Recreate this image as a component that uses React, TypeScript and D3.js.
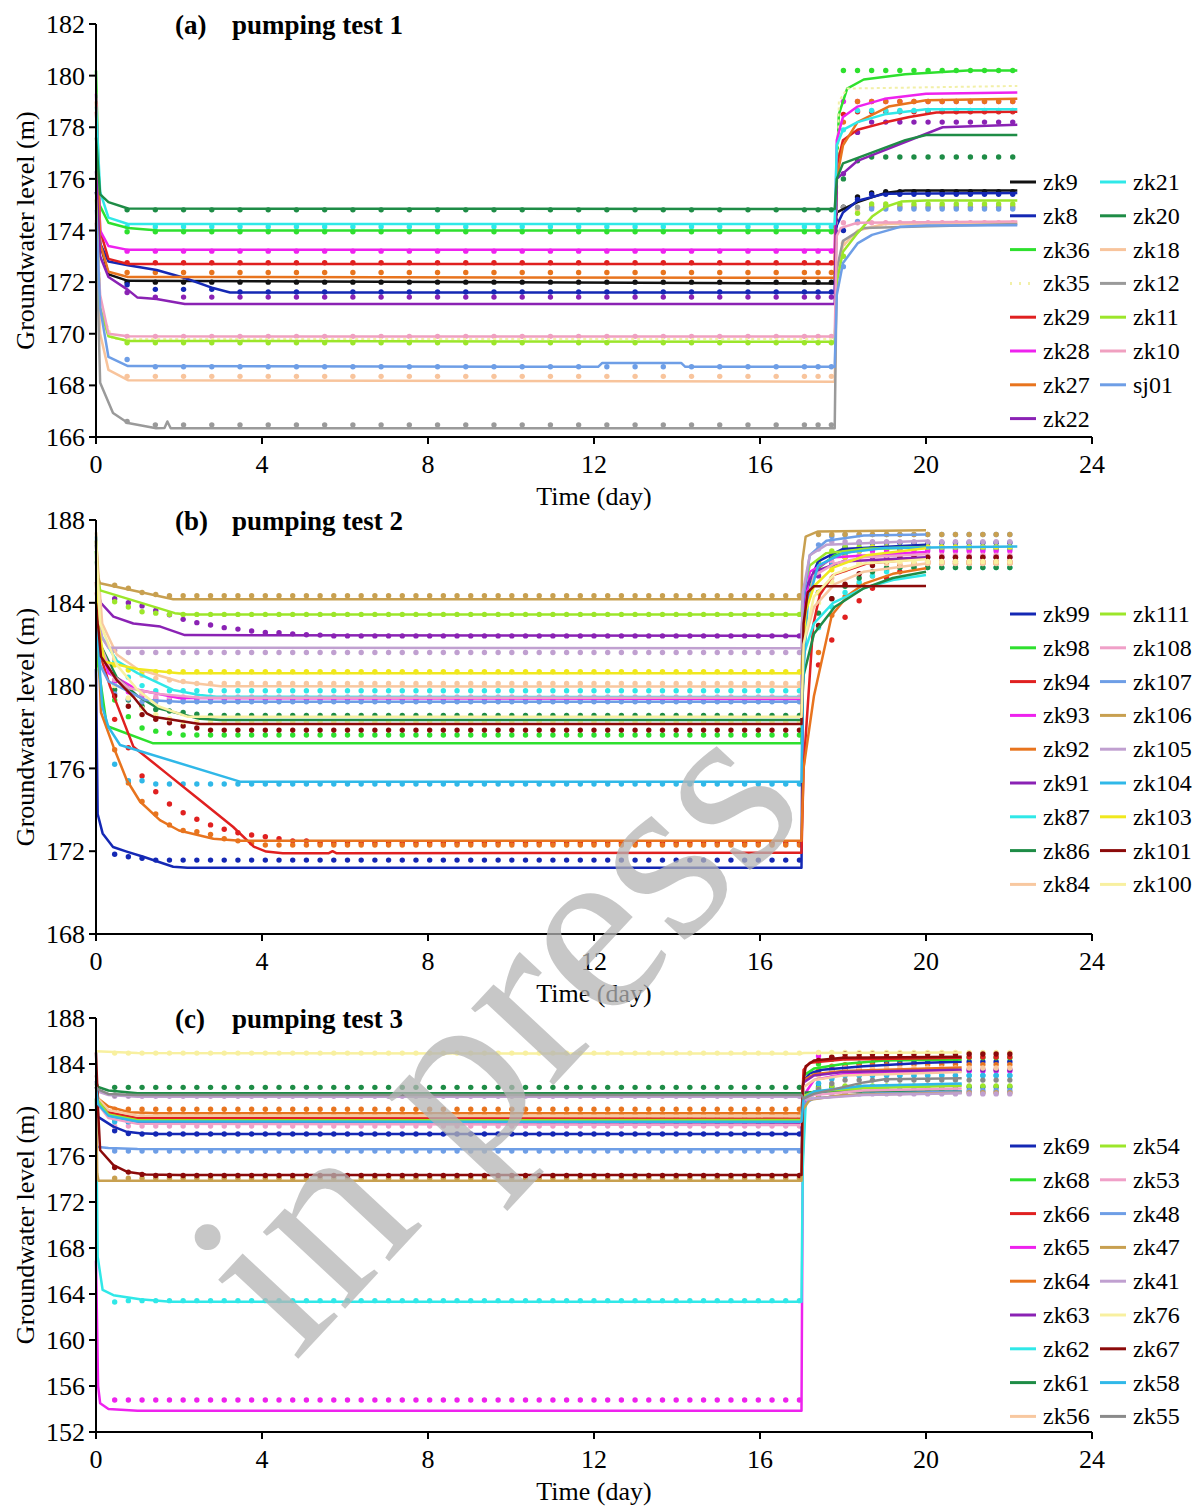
import React from 'react';
import * as d3 from 'd3';

// time axis (days)
const dayTicks = [0, 4, 8, 12, 16, 20, 24];

// observation times
const pumpTimesA = [0.75, 1.43, 2.11, 2.79, 3.47, 4.15, 4.83, 5.51, 6.19, 6.87, 7.55, 8.23, 8.91, 9.59, 10.27, 10.95, 11.63, 12.31, 12.99, 13.67, 14.35, 15.03, 15.71, 16.39, 17.07, 17.4, 17.72];
const recTimesA = [18.01, 18.35, 18.69, 19.03, 19.37, 19.71, 20.05, 20.39, 20.73, 21.07, 21.41, 21.75, 22.09];
const pumpTimesBC = [0.45, 0.78, 1.11, 1.44, 1.77, 2.1, 2.43, 2.76, 3.09, 3.42, 3.75, 4.08, 4.41, 4.74, 5.07, 5.4, 5.73, 6.06, 6.39, 6.72, 7.05, 7.38, 7.71, 8.04, 8.37, 8.7, 9.03, 9.36, 9.69, 10.02, 10.35, 10.68, 11.01, 11.34, 11.67, 12, 12.33, 12.66, 12.99, 13.32, 13.65, 13.98, 14.31, 14.64, 14.97, 15.3, 15.63, 15.96, 16.29, 16.62, 16.95];
const recTimesBC = [17.41, 17.73, 18.05, 18.39, 18.71, 19.05, 19.37, 19.71, 20.04, 20.38, 20.71, 21.04, 21.37, 21.69, 22.02];

// ---------- pumping test 1 ----------
const ticksA = [166, 168, 170, 172, 174, 176, 178, 180, 182];
const wellsA = ['zk9', 'zk8', 'zk36', 'zk35', 'zk29', 'zk28', 'zk27', 'zk22', 'zk21', 'zk20', 'zk18', 'zk12', 'zk11', 'zk10', 'sj01'];
const simA = [
  [[0, 175.5], [0.1, 173.5], [0.3, 172.3], [0.77, 172.05], [17.8, 171.95], [17.85, 174.7], [18.35, 175.1], [19.0, 175.45], [19.5, 175.55], [22.2, 175.55]],
  [[0, 175.5], [0.1, 173.5], [0.3, 172.8], [0.77, 172.65], [1.46, 172.47], [2.14, 172.16], [2.82, 171.77], [3.23, 171.6], [17.8, 171.6], [17.85, 174.2], [18.0, 174.7], [18.35, 175.15], [19.0, 175.42], [22.2, 175.45]],
  [[0, 180.2], [0.08, 175.0], [0.3, 174.3], [0.77, 174.1], [1.5, 174.0], [17.8, 174.0], [17.9, 178.5], [18.1, 179.5], [18.5, 179.85], [19.5, 180.05], [21, 180.2], [22.2, 180.2]],
  [[0, 179.6], [0.1, 171], [0.4, 169.8], [17.8, 169.8], [17.9, 179.0], [18.1, 179.5], [22.2, 179.6]],
  [[0, 178.6], [0.1, 174], [0.3, 172.9], [0.77, 172.7], [17.8, 172.7], [17.85, 176.5], [18.0, 177.5], [18.35, 177.9], [19.05, 178.2], [19.6, 178.4], [20.25, 178.57], [22.2, 178.6]],
  [[0, 179.3], [0.1, 174], [0.3, 173.4], [0.77, 173.25], [17.8, 173.25], [17.85, 177.5], [18.0, 178.4], [18.35, 178.8], [19.0, 179.1], [20, 179.3], [22.2, 179.35]],
  [[0, 179.0], [0.1, 173.5], [0.3, 172.4], [0.77, 172.2], [17.8, 172.17], [17.85, 176], [18.0, 177.3], [18.35, 178.2], [19.1, 178.8], [20, 179.05], [22.2, 179.1]],
  [[0, 176.3], [0.1, 173], [0.3, 172.2], [0.77, 171.7], [1.0, 171.4], [1.46, 171.35], [2.14, 171.15], [17.8, 171.15], [17.85, 176.0], [18.35, 176.7], [20.4, 178.0], [22.2, 178.1]],
  [[0, 178.8], [0.1, 175.5], [0.3, 174.5], [0.77, 174.25], [17.8, 174.25], [17.85, 177.3], [18.0, 177.9], [18.35, 178.2], [19.0, 178.5], [20, 178.7], [22.2, 178.7]],
  [[0, 177.6], [0.1, 175.4], [0.3, 175.1], [0.77, 174.85], [17.8, 174.83], [17.85, 176.0], [18.0, 176.6], [18.5, 176.9], [19.5, 177.5], [20, 177.7], [22.2, 177.7]],
  [[0, 174.3], [0.1, 170], [0.3, 168.6], [0.77, 168.2], [17.8, 168.14], [17.85, 172.5], [18.0, 173.4], [18.35, 174.0], [19.0, 174.25], [22.2, 174.3]],
  [[0, 174.3], [0.1, 168.1], [0.41, 166.93], [0.77, 166.54], [1.45, 166.34], [1.65, 166.35], [1.72, 166.6], [1.8, 166.34], [17.8, 166.34], [17.85, 172.5], [18.0, 173.6], [18.5, 174.1], [22.2, 174.25]],
  [[0, 175.2], [0.1, 171], [0.3, 169.9], [0.77, 169.72], [17.8, 169.69], [17.85, 172.0], [18.0, 173.18], [18.35, 173.9], [18.7, 174.54], [19.05, 174.93], [19.4, 175.12], [20, 175.16], [22.2, 175.16]],
  [[0, 174.4], [0.1, 171.5], [0.3, 170.0], [0.77, 169.9], [17.8, 169.89], [17.85, 173.8], [17.95, 174.1], [18.35, 174.3], [22.2, 174.35]],
  [[0, 174.8], [0.1, 171], [0.3, 169.1], [0.77, 168.75], [12.1, 168.72], [12.2, 168.87], [14.1, 168.87], [14.2, 168.72], [17.8, 168.72], [17.85, 171.5], [18.0, 172.74], [18.35, 173.5], [18.7, 173.83], [19.4, 174.15], [20, 174.19], [22.2, 174.2]],
];
// observed levels as [value, count] runs over the observation times
const pumpObsA = [
  [[172.0, 27]], [[171.9, 1], [171.72, 3], [171.62, 23]], [[173.95, 27]], [], [[172.75, 27]], [[173.2, 27]], [[172.37, 27]],
  [[171.6, 1], [171.42, 26]], [[174.15, 27]], [[174.8, 27]], [[168.35, 27]], [[166.6, 1], [166.47, 26]], [[169.65, 27]], [[169.9, 27]],
  [[169.0, 1], [168.72, 26]],
];
const recObsA = [
  [[174.9, 1], [175.3, 1], [175.45, 1], [175.5, 10]], [[174.0, 1], [175.2, 1], [175.4, 11]], [[180.2, 13]], [], [[178.5, 1], [178.6, 12]],
  [[179.0, 13]], [[178.2, 1], [179.0, 12]], [[176.2, 1], [177.8, 1], [178.2, 11]], [[177.9, 1], [178.65, 12]],
  [[176.0, 1], [176.7, 1], [176.85, 11]], [[173.5, 1], [174.8, 1], [174.95, 11]], [[174.9, 13]], [[173.0, 1], [174.67, 1], [175.03, 11]],
  [[174.3, 13]], [[172.6, 1], [174.35, 1], [174.83, 11]],
];
const colorsA = ['#111111', '#1428b4', '#2ee02e', '#f2f0a8', '#e02020', '#ee22ee', '#e8741e', '#8a22b4', '#30e8e8', '#1e8c46', '#f8c49c', '#9a9a9a', '#9ce62a', '#f0a0c0', '#6e9ee6'];

// ---------- pumping test 2 ----------
const ticksB = [168, 172, 176, 180, 184, 188];
const wellsB = ['zk99', 'zk98', 'zk94', 'zk93', 'zk92', 'zk91', 'zk87', 'zk86', 'zk84', 'zk111', 'zk108', 'zk107', 'zk106', 'zk105', 'zk104', 'zk103', 'zk101', 'zk100'];
const simB = [
  [[0, 180.8], [0.04, 173.8], [0.16, 172.86], [0.41, 172.2], [0.74, 171.98], [1.14, 171.73], [1.86, 171.25], [2.2, 171.2], [17, 171.2], [17.03, 180], [17.1, 184.5], [17.4, 186.0], [18, 186.6], [20, 186.8]],
  [[0, 186.5], [0.05, 181], [0.26, 178.05], [1.38, 177.21], [17, 177.21], [17.05, 183], [17.3, 185.5], [17.8, 186.3], [18.5, 186.6], [20, 186.7]],
  [[0, 184.5], [0.1, 181.5], [0.34, 179.95], [0.9, 177.05], [1.7, 175.76], [2.5, 174.47], [3.3, 173.18], [3.8, 172.22], [4.1, 171.98], [4.5, 171.9], [5.6, 171.9], [5.7, 172.0], [5.8, 171.9], [17, 171.93], [17.05, 176], [17.28, 182.9], [17.44, 184.38], [17.76, 185.34], [18.57, 185.9], [20, 186.15]],
  [[0, 187.0], [0.1, 182], [0.3, 180.6], [1.0, 179.8], [2.0, 179.4], [17, 179.35], [17.03, 183], [17.2, 185.5], [17.8, 186.2], [20, 186.45]],
  [[0, 185], [0.12, 178.7], [0.42, 177.05], [0.74, 175.44], [1.06, 174.4], [1.54, 173.5], [2.0, 173.0], [2.83, 172.6], [3.47, 172.51], [17, 172.51], [17.05, 176], [17.3, 179.5], [17.73, 183.4], [18.13, 184.38], [18.53, 184.94], [19.2, 185.4], [20, 185.67]],
  [[0, 185.0], [0.07, 184.3], [0.12, 183.99], [0.42, 183.33], [0.9, 183.0], [1.55, 182.85], [2.14, 182.44], [17, 182.4], [17.05, 184.5], [17.3, 185.5], [18, 186.0], [20, 186.2]],
  [[0, 187.0], [0.1, 182.5], [0.5, 181.2], [1.0, 180.6], [1.86, 179.79], [2.5, 179.55], [2.9, 179.46], [17, 179.45], [17.05, 181.5], [17.3, 183.0], [17.76, 184.0], [18.5, 184.7], [19.2, 185.1], [20, 185.34]],
  [[0, 186], [0.1, 182], [0.5, 180.4], [1.0, 179.5], [1.5, 178.9], [2.5, 178.4], [3, 178.34], [17, 178.34], [17.05, 180.5], [17.3, 182.5], [17.8, 183.8], [18.5, 184.7], [19.2, 185.2], [20, 185.5]],
  [[0, 187], [0.15, 183], [0.5, 181.5], [1.0, 180.8], [2.0, 180.2], [3.0, 179.97], [17, 179.95], [17.05, 182], [17.3, 183.8], [17.8, 184.9], [18.5, 185.5], [20, 185.9]],
  [[0, 186.5], [0.05, 185.2], [0.1, 184.6], [1.9, 183.5], [2.2, 183.44], [17, 183.44], [17.03, 184.5], [17.2, 185.8], [17.6, 186.4], [18.5, 186.6], [20, 186.7]],
  [[0, 186.8], [0.1, 182], [0.4, 180.5], [0.8, 179.87], [1.5, 179.6], [2.5, 179.41], [17, 179.41], [17.03, 183], [17.3, 185.3], [17.8, 185.9], [18.5, 186.2], [20, 186.35]],
  [[0, 186.8], [0.1, 181.0], [0.3, 180.2], [1.2, 179.3], [2, 179.22], [17, 179.22], [17.03, 184], [17.2, 186.3], [17.6, 187.0], [18.5, 187.25], [20, 187.3]],
  [[0, 187.4], [0.05, 185.2], [0.1, 184.94], [1.86, 184.17], [17, 184.17], [17.02, 186], [17.1, 187.2], [17.4, 187.45], [20, 187.5]],
  [[0, 187], [0.05, 183.5], [0.15, 182.3], [0.3, 181.83], [17, 181.8], [17.03, 184.5], [17.2, 186.3], [17.6, 186.8], [20, 187.0]],
  [[0, 187.2], [0.05, 182], [0.15, 179], [0.3, 178.0], [0.58, 177.13], [3.47, 175.36], [17, 175.35], [17.03, 180], [17.15, 184], [17.4, 185.8], [18, 186.4], [19, 186.65], [22.2, 186.72]],
  [[0, 187.0], [0.05, 183], [0.2, 181.15], [1.0, 180.8], [2.0, 180.6], [17, 180.6], [17.1, 183.57], [17.3, 184.8], [17.76, 185.7], [18.57, 186.3], [20, 186.63]],
  [[0, 184.0], [0.12, 181.4], [0.5, 180.27], [0.9, 179.46], [1.22, 178.66], [1.38, 178.5], [2.5, 178.14], [17, 178.14], [17.05, 183], [17.15, 184.5], [17.3, 184.8], [20, 184.81]],
  [[0, 187], [0.1, 183], [0.5, 181], [1.0, 179.8], [1.5, 179.0], [2.2, 178.5], [17, 178.5], [17.05, 182], [17.3, 184.3], [17.8, 185.4], [18.5, 185.9], [20, 186.1]],
];
const pumpObsB = [
  [[171.85, 1], [171.73, 1], [171.66, 1], [171.57, 48]],
  [[179.3, 1], [178.5, 1], [177.95, 1], [177.8, 1], [177.7, 1], [177.61, 46]],
  [[178.37, 1], [177.0, 1], [175.63, 1], [174.87, 1], [174.28, 1], [173.86, 1], [173.54, 1], [173.27, 1], [173.06, 1], [172.89, 1], [172.78, 1], [172.7, 1], [172.6, 1], [172.5, 2], [172.4, 36]],
  [[180.2, 1], [179.7, 1], [179.5, 1], [179.35, 48]],
  [[176.9, 1], [175.3, 1], [174.4, 1], [173.8, 1], [173.27, 1], [173.0, 1], [172.94, 1], [172.81, 1], [172.6, 1], [172.5, 1], [172.4, 1], [172.3, 40]],
  [[184.2, 1], [184.0, 1], [183.85, 1], [183.63, 1], [183.42, 1], [183.2, 1], [183.04, 1], [182.93, 1], [182.8, 1], [182.73, 1], [182.64, 1], [182.57, 1], [182.55, 1], [182.5, 1], [182.46, 1], [182.44, 1], [182.4, 35]],
  [[181.2, 1], [180.4, 1], [180.0, 1], [179.75, 48]],
  [[179.8, 1], [179.3, 1], [179.0, 1], [178.85, 1], [178.77, 1], [178.7, 1], [178.62, 1], [178.56, 44]],
  [[181.3, 1], [180.8, 1], [180.5, 1], [180.35, 1], [180.27, 1], [180.2, 1], [180.1, 45]],
  [[184.05, 1], [183.8, 1], [183.57, 1], [183.5, 1], [183.44, 47]],
  [[180.3, 1], [179.8, 1], [179.6, 1], [179.45, 48]],
  [[179.6, 1], [179.35, 1], [179.22, 49]],
  [[184.85, 1], [184.7, 1], [184.5, 1], [184.4, 1], [184.34, 47]],
  [[181.7, 1], [181.6, 50]],
  [[176.2, 1], [175.4, 2], [175.25, 48]],
  [[181.0, 1], [180.75, 1], [180.67, 49]],
  [[179.5, 1], [179.0, 1], [178.6, 1], [178.37, 1], [178.2, 1], [178.05, 1], [177.95, 1], [177.85, 44]],
  [[180.0, 1], [179.4, 1], [178.9, 1], [178.6, 1], [178.4, 1], [178.25, 46]],
];
const recObsB = [
  [[184.5, 1], [186.2, 1], [186.7, 1], [186.9, 12]],
  [[185.6, 1], [186.3, 1], [186.6, 13]],
  [[181.0, 1], [182.2, 1], [183.3, 1], [184.1, 1], [184.7, 1], [185.2, 1], [185.5, 1], [185.8, 1], [186.0, 7]],
  [[185.8, 1], [186.3, 1], [186.5, 13]],
  [[181.6, 1], [183.4, 1], [184.3, 1], [184.9, 1], [185.3, 1], [185.6, 1], [185.8, 1], [185.9, 8]],
  [[185.3, 1], [185.9, 1], [186.2, 13]],
  [[182.8, 1], [183.8, 1], [184.5, 1], [185.0, 1], [185.3, 1], [185.5, 1], [185.7, 9]],
  [[183.5, 1], [184.2, 1], [184.8, 1], [185.2, 1], [185.5, 1], [185.7, 10]],
  [[184.5, 1], [185.2, 1], [185.6, 1], [185.9, 12]],
  [[186.0, 1], [186.5, 1], [186.7, 13]],
  [[185.5, 1], [186.0, 1], [186.3, 13]],
  [[186.8, 1], [187.2, 1], [187.3, 13]],
  [[187.3, 15]],
  [[186.6, 1], [186.95, 14]],
  [[184.5, 1], [185.8, 1], [186.3, 1], [186.5, 1], [186.7, 11]],
  [[184.5, 1], [185.6, 1], [186.2, 1], [186.5, 1], [186.7, 11]],
  [[182.9, 1], [184.2, 1], [184.9, 1], [185.4, 1], [185.8, 1], [186.0, 1], [186.2, 9]],
  [[184.0, 1], [185.0, 1], [185.6, 1], [185.9, 1], [186.0, 11]],
];
const colorsB = ['#1428b4', '#2ee02e', '#e02020', '#ee22ee', '#e8741e', '#8a22b4', '#30e8e8', '#1e8c46', '#f8c8a0', '#9ce62a', '#f0a0c8', '#6e9ee6', '#c8a050', '#c0a0d0', '#30b8e8', '#f0e81e', '#8b0a0a', '#f8f0a0'];

// ---------- pumping test 3 ----------
const ticksC = [152, 156, 160, 164, 168, 172, 176, 180, 184, 188];
const wellsC = ['zk69', 'zk68', 'zk66', 'zk65', 'zk64', 'zk63', 'zk62', 'zk61', 'zk56', 'zk54', 'zk53', 'zk48', 'zk47', 'zk41', 'zk76', 'zk67', 'zk58', 'zk55'];
const simC = [
  [[0, 182.5], [0.05, 179.4], [0.42, 178.55], [0.74, 178.1], [1.06, 177.98], [1.5, 177.91], [17, 177.91], [17.05, 182.5], [17.2, 183.2], [17.5, 183.5], [18.5, 183.8], [20, 184.1], [20.86, 184.2]],
  [[0, 182.3], [0.05, 180.5], [0.3, 179.6], [1, 179.15], [17, 179.1], [17.05, 183], [17.3, 183.6], [18, 184.0], [19, 184.3], [20.86, 184.4]],
  [[0, 183], [0.05, 181], [0.3, 179.8], [1, 179.3], [17, 179.27], [17.05, 183.5], [17.2, 184.1], [18, 184.4], [20.86, 184.55]],
  [[0, 166.9], [0.05, 156], [0.1, 154.5], [0.3, 154.0], [1, 153.85], [17, 153.85], [17.03, 176], [17.1, 181.5], [17.3, 182.6], [18, 183.1], [20.86, 183.4]],
  [[0, 182], [0.05, 181], [0.3, 180.3], [0.8, 179.8], [1.5, 179.71], [17, 179.71], [17.05, 182.6], [17.3, 183.1], [18, 183.4], [20.86, 183.7]],
  [[0, 182], [0.05, 180.5], [0.3, 179.5], [1, 178.95], [17, 178.9], [17.05, 182.4], [17.3, 183.0], [18, 183.3], [20.86, 183.5]],
  [[0, 181], [0.04, 167.24], [0.16, 164.35], [0.42, 163.9], [1.06, 163.55], [1.8, 163.33], [17, 163.33], [17.03, 175], [17.1, 180.5], [17.3, 181.4], [18, 181.9], [20.86, 182.2]],
  [[0, 182.5], [0.05, 182.0], [0.3, 181.7], [1, 181.45], [17, 181.45], [17.05, 181.5], [17.5, 181.6], [20.86, 181.6]],
  [[0, 182], [0.05, 181], [0.3, 180.0], [1, 179.5], [17, 179.45], [17.05, 182.0], [17.3, 182.6], [18, 183.0], [20.86, 183.3]],
  [[0, 182], [0.05, 180.8], [0.3, 179.6], [1, 179.1], [17, 179.13], [17.05, 181.2], [17.3, 181.6], [18.5, 181.9], [20.86, 182.1]],
  [[0, 182], [0.05, 180.5], [0.3, 179.3], [1, 178.8], [17, 178.7], [17.05, 180.9], [17.3, 181.3], [18.5, 181.7], [20.86, 181.88]],
  [[0, 176.8], [0.3, 176.7], [1, 176.6], [17, 176.58], [17.05, 180.5], [17.3, 181.0], [18.5, 181.4], [20.86, 181.6]],
  [[0, 181], [0.03, 174.5], [0.06, 173.85], [17, 173.85], [17.03, 180], [17.2, 180.9], [18, 181.3], [20.86, 181.5]],
  [[0, 182], [0.05, 181.6], [0.3, 181.3], [1, 181.16], [17, 181.16], [17.05, 180.9], [17.3, 181.0], [18.5, 181.3], [20.86, 181.45]],
  [[0, 185.1], [1, 184.95], [17, 184.9], [17.05, 184.95], [20.86, 185.0]],
  [[0, 185], [0.05, 180], [0.1, 176.5], [0.42, 175.2], [0.74, 174.64], [1.2, 174.4], [2, 174.35], [17, 174.35], [17.03, 182], [17.1, 183.8], [17.3, 184.3], [18, 184.55], [20.86, 184.64]],
  [[0, 182], [0.05, 180.5], [0.3, 179.5], [1, 179.0], [17, 178.98], [17.05, 181.0], [17.3, 181.6], [18.5, 182.1], [20.86, 182.3]],
  [[0, 182], [0.05, 181.8], [0.3, 181.4], [1, 181.3], [17, 181.3], [17.05, 181.0], [17.3, 181.4], [18.5, 182.4], [19, 182.67], [20.86, 182.76]],
];
const pumpObsC = [
  [[178.2, 1], [177.96, 1], [177.91, 49]], [[179.3, 1], [179.1, 50]], [[179.4, 1], [179.27, 50]], [[154.78, 51]],
  [[180.06, 51]], [[179.2, 1], [178.95, 50]], [[163.3, 1], [163.42, 50]], [[181.97, 51]], [[179.55, 51]],
  [[179.13, 51]], [[178.6, 51]], [[176.43, 51]], [[174.06, 51]], [[181.2, 51]], [[184.95, 51]],
  [[175.0, 1], [174.6, 1], [174.4, 1], [174.3, 48]], [[178.98, 51]], [[181.3, 51]],
];
const recObsC = [
  [[183.4, 1], [183.6, 1], [183.8, 1], [184.0, 1], [184.1, 1], [184.2, 10]], [[184.0, 1], [184.4, 1], [184.55, 13]],
  [[184.3, 1], [184.6, 14]], [[184.7, 1], [183.4, 14]], [[183.5, 1], [183.8, 1], [183.95, 13]], [[183.2, 1], [183.5, 14]],
  [[182.3, 1], [182.8, 1], [183.0, 13]], [[182.0, 15]], [[183.0, 1], [183.4, 1], [183.65, 13]], [[181.9, 1], [182.1, 14]],
  [[181.7, 1], [181.55, 14]], [[181.4, 1], [181.7, 14]], [[181.2, 1], [181.5, 14]], [[181.4, 15]], [[185.0, 15]],
  [[184.3, 1], [184.6, 1], [184.87, 13]], [[182.3, 1], [182.7, 1], [183.0, 13]], [[181.8, 1], [182.3, 1], [182.6, 13]],
];
const colorsC = ['#1428b4', '#2ee02e', '#e02020', '#ee22ee', '#e8741e', '#8a22b4', '#30e8e8', '#1e8c46', '#f8c8a0', '#9ce62a', '#f0a0c8', '#6e9ee6', '#c8a050', '#c0a0d0', '#f8f0a0', '#8b0a0a', '#30b8e8', '#8a8a8a'];

const FONT = "'Liberation Serif', 'Times New Roman', serif";

function expand(runs) {
  const out = [];
  runs.forEach(([v, n]) => {
    for (let i = 0; i < n; i++) out.push(v);
  });
  return out;
}

const x = d3.scaleLinear().domain([0, 24]).range([96, 1092]);

function Panel({ top, bottom, ticks, wells, colors, sim, pumpObs, recObs, pumpT, recT, tag, title, legendY, split, dotted }) {
  const y = d3.scaleLinear().domain([ticks[0], ticks[ticks.length - 1]]).range([bottom, top]);
  const line = d3.line().x((d) => x(d[0])).y((d) => y(d[1]));
  const mid = (top + bottom) / 2;

  return (
    <g>
      {/* observed points */}
      {wells.map((w, i) => {
        const pv = expand(pumpObs[i]);
        const rv = expand(recObs[i]);
        return (
          <g key={'o' + w} fill={colors[i]}>
            {pv.map((v, k) => (pumpT[k] === undefined ? null : <circle key={'p' + k} cx={x(pumpT[k])} cy={y(v)} r={2.7} />))}
            {rv.map((v, k) => (recT[k] === undefined ? null : <circle key={'r' + k} cx={x(recT[k])} cy={y(v)} r={2.7} />))}
          </g>
        );
      })}
      {/* simulated lines */}
      {wells.map((w, i) => (
        <path
          key={'s' + w}
          d={line(sim[i])}
          fill="none"
          stroke={colors[i]}
          strokeWidth={w === dotted ? 2 : 2.5}
          strokeDasharray={w === dotted ? '3 3' : null}
          strokeLinejoin="round"
        />
      ))}

      {/* axes */}
      <line x1={96} x2={96} y1={top} y2={bottom} stroke="#000" strokeWidth={2} />
      <line x1={95} x2={x(24)} y1={bottom} y2={bottom} stroke="#000" strokeWidth={2} />
      {ticks.map((t) => (
        <g key={'yt' + t}>
          <line x1={89} x2={96} y1={y(t)} y2={y(t)} stroke="#000" strokeWidth={2} />
          <text x={85} y={y(t)} dy="0.35em" textAnchor="end" fontSize={26} fontFamily={FONT}>{t}</text>
        </g>
      ))}
      {dayTicks.map((t) => (
        <g key={'xt' + t}>
          <line x1={x(t)} x2={x(t)} y1={bottom} y2={bottom + 7} stroke="#000" strokeWidth={2} />
          <text x={x(t)} y={bottom + 36} textAnchor="middle" fontSize={26} fontFamily={FONT}>{t}</text>
        </g>
      ))}
      <text x={x(12)} y={bottom + 68} textAnchor="middle" fontSize={26} fontFamily={FONT}>Time (day)</text>
      <text transform={`translate(34,${mid}) rotate(-90)`} textAnchor="middle" fontSize={26} fontFamily={FONT}>Groundwater level (m)</text>
      <text x={175} y={top + 10} fontSize={27} fontWeight="bold" fontFamily={FONT}>{tag}</text>
      <text x={232} y={top + 10} fontSize={27} fontWeight="bold" fontFamily={FONT}>{title}</text>

      {/* legend */}
      {wells.map((w, i) => {
        const col = i < split ? 0 : 1;
        const row = col === 0 ? i : i - split;
        const lx = col === 0 ? 1010 : 1100;
        const ly = legendY + row * 33.8;
        return (
          <g key={'l' + w}>
            <line x1={lx} x2={lx + 26} y1={ly} y2={ly} stroke={colors[i]} strokeWidth={3} strokeDasharray={w === dotted ? '2 7' : null} />
            <text x={lx + 33} y={ly + 8} fontSize={24} fontFamily={FONT}>{w}</text>
          </g>
        );
      })}
    </g>
  );
}

export default function App() {
  return (
    <svg width={1204} height={1508} style={{ position: 'absolute', left: 0, top: 0, background: '#fff' }}>
      <rect width={1204} height={1508} fill="#fff" />
      <Panel top={24} bottom={437} ticks={ticksA} wells={wellsA} colors={colorsA} sim={simA} pumpObs={pumpObsA} recObs={recObsA}
        pumpT={pumpTimesA} recT={recTimesA} tag="(a)" title="pumping test 1" legendY={182} split={8} dotted="zk35" />
      <Panel top={520} bottom={934} ticks={ticksB} wells={wellsB} colors={colorsB} sim={simB} pumpObs={pumpObsB} recObs={recObsB}
        pumpT={pumpTimesBC} recT={recTimesBC} tag="(b)" title="pumping test 2" legendY={614} split={9} dotted={null} />
      <Panel top={1018} bottom={1432} ticks={ticksC} wells={wellsC} colors={colorsC} sim={simC} pumpObs={pumpObsC} recObs={recObsC}
        pumpT={pumpTimesBC} recT={recTimesBC} tag="(c)" title="pumping test 3" legendY={1146} split={9} dotted={null} />
      {/* watermark */}
      <text transform="translate(492,1030) rotate(-47)" textAnchor="middle" dominantBaseline="central" fontSize={245}
        fontFamily={FONT} fill="#b4b4b4" fillOpacity={0.75}>in press</text>
    </svg>
  );
}
